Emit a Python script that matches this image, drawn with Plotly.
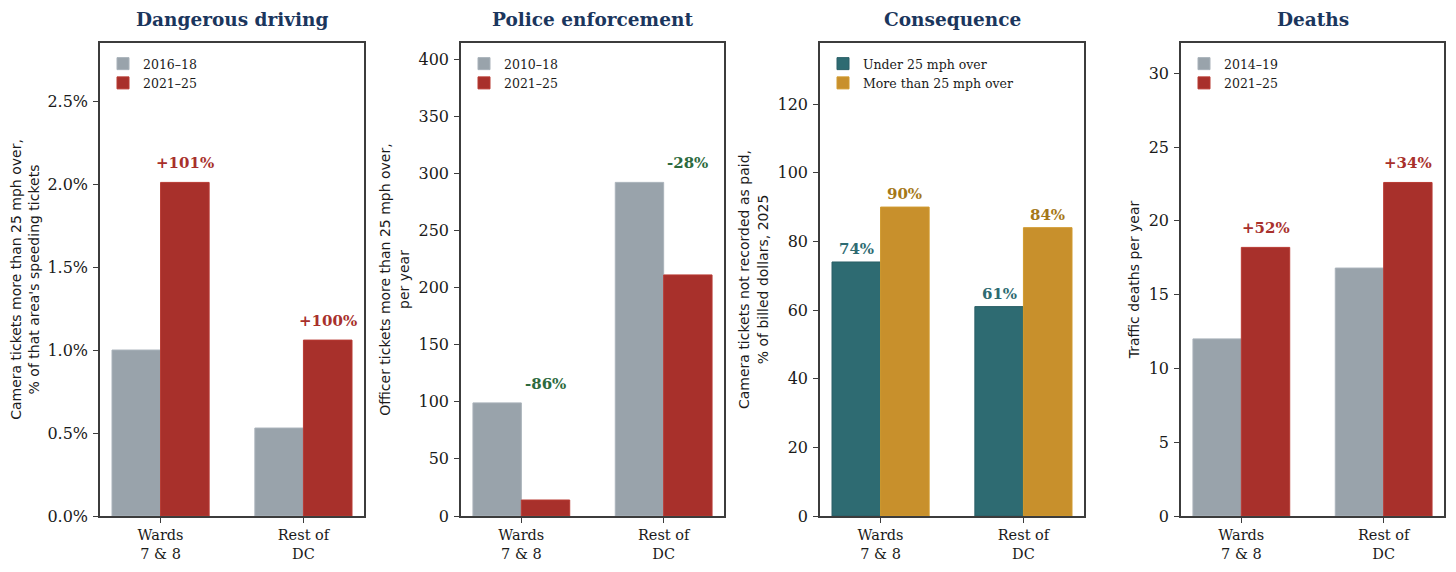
import plotly.graph_objects as go

groups = ["Wards<br>7 & 8", "Rest of<br>DC"]

# Dangerous driving: share of camera tickets > 25 mph over (%)
driving_before = [1.00, 0.53]
driving_after = [2.01, 1.06]
driving_change = ["+101%", "+100%"]

# Police enforcement: officer tickets > 25 mph over, per year
police_before = [99, 292]
police_after = [14, 211]
police_change = ["-86%", "-28%"]

# Consequence: camera tickets not recorded as paid (% of billed dollars, 2025)
unpaid_under = [74, 61]
unpaid_over = [90, 84]

# Deaths: traffic deaths per year
deaths_before = [12.0, 16.8]
deaths_after = [18.2, 22.6]
deaths_change = ["+52%", "+34%"]

GREY = "#99a3ab"
RED = "#a8302b"
TEAL = "#2e6b72"
GOLD = "#c8902c"
TITLE = "#1b365d"
GREEN = "#2d6a3e"
GOLD_TXT = "#a57818"

# page body has an 8px margin, so the figure is a bit smaller and offset
OFF = 8
W, H = 1456 - 2 * OFF, 572 - 2 * OFF


def px_x(v):
    return (v - OFF) / W


def px_y(v):
    return 1 - (v - OFF) / H


left_px = [100, 461, 820, 1181]
right_px = [364, 724, 1084, 1444]
top_px, bottom_px = 43, 516
ydom = [px_y(bottom_px), px_y(top_px)]
BW = 0.34

fig = go.Figure()

panels = [
    dict(title="Dangerous driving",
         ytitle="Camera tickets more than 25 mph over,<br>% of that area's speeding tickets",
         a=driving_before, b=driving_after, names=["2016\u201318", "2021\u201325"],
         colors=[GREY, RED], edges=["#a9b2ba", "#b83a33"],
         yrange=[0, 2.85], dtick=0.5, fmt=".1f", suffix="%"),
    dict(title="Police enforcement",
         ytitle="Officer tickets more than 25 mph over,<br>per year",
         a=police_before, b=police_after, names=["2010\u201318", "2021\u201325"],
         colors=[GREY, RED], edges=["#a9b2ba", "#b83a33"],
         yrange=[0, 414], dtick=50, fmt="d", suffix=""),
    dict(title="Consequence",
         ytitle="Camera tickets not recorded as paid,<br>% of billed dollars, 2025",
         a=unpaid_under, b=unpaid_over, names=["Under 25 mph over", "More than 25 mph over"],
         colors=[TEAL, GOLD], edges=["#2a5f66", "#d19a2e"],
         yrange=[0, 137.8], dtick=20, fmt="d", suffix=""),
    dict(title="Deaths",
         ytitle="Traffic deaths per year",
         a=deaths_before, b=deaths_after, names=["2014\u201319", "2021\u201325"],
         colors=[GREY, RED], edges=["#a9b2ba", "#b83a33"],
         yrange=[0, 32.05], dtick=5, fmt="d", suffix=""),
]

xs = list(range(len(groups)))
annotations = []

for i, p in enumerate(panels):
    n = "" if i == 0 else str(i + 1)
    leg = "legend" + n
    for k, (vals, off) in enumerate([(p["a"], -BW), (p["b"], 0)]):
        fig.add_trace(go.Bar(
            x=xs, y=vals, width=BW, offset=off, name=p["names"][k],
            marker=dict(color=p["colors"][k], line=dict(color=p["edges"][k], width=1)),
            xaxis="x" + n, yaxis="y" + n, legend=leg, hoverinfo="y",
        ))

    dom = [px_x(left_px[i]), px_x(right_px[i])]
    fig.layout["xaxis" + n] = dict(
        domain=dom, range=[-0.424, 1.424], tickvals=xs, ticktext=groups,
        showline=True, mirror=True, linecolor="#3c3c3c", linewidth=1.5,
        ticks="outside", ticklen=5, tickcolor="#3c3c3c", tickwidth=1.2,
        tickfont=dict(family="DejaVu Serif", size=14.5, color="#1a1a1a"),
        showgrid=False, zeroline=False, anchor="y" + n, fixedrange=True,
        automargin=False,
    )
    fig.layout["yaxis" + n] = dict(
        domain=ydom, range=p["yrange"], dtick=p["dtick"], tick0=0,
        tickformat=p["fmt"], ticksuffix=p["suffix"],
        showline=True, mirror=True, linecolor="#3c3c3c", linewidth=1.5,
        ticks="outside", ticklen=5, tickcolor="#3c3c3c", tickwidth=1.2,
        ticklabelstandoff=2,
        tickfont=dict(family="DejaVu Serif", size=16, color="#1a1a1a"),
        title=dict(text=p["ytitle"], standoff=6,
                   font=dict(family="DejaVu Sans", size=14, color="#1a1a1a")),
        showgrid=False, zeroline=False, anchor="x" + n, fixedrange=True,
        automargin=False,
    )
    fig.layout[leg] = dict(
        x=px_x(left_px[i] + 3), y=px_y(top_px + 6), xanchor="left", yanchor="top",
        bgcolor="rgba(255,255,255,0)", borderwidth=0,
        font=dict(family="DejaVu Serif", size=12.5, color="#1a1a1a"),
        itemwidth=30, tracegroupgap=0,
    )

    annotations.append(dict(
        text="<b>%s</b>" % p["title"], xref="paper", yref="paper",
        x=sum(dom) / 2, y=px_y(19.5), xanchor="center", yanchor="middle",
        showarrow=False, font=dict(family="DejaVu Serif", size=18.5, color=TITLE),
    ))

# change labels above the later-period bar
for n, before, after, labels, colors in [
    ("", driving_before, driving_after, driving_change, [RED, RED]),
    ("2", police_before, police_after, police_change, [GREEN, GREEN]),
    ("4", deaths_before, deaths_after, deaths_change, [RED, RED]),
]:
    for j in xs:
        annotations.append(dict(
            text="<b>%s</b>" % labels[j], xref="x" + n, yref="y" + n,
            x=j + BW / 2, y=max(before[j], after[j]), yshift=19,
            xanchor="center", yanchor="middle", showarrow=False,
            font=dict(family="DejaVu Serif", size=15, color=colors[j]),
        ))

# value labels on the consequence panel
for vals, off, col in [(unpaid_under, -BW / 2, TEAL), (unpaid_over, BW / 2, GOLD_TXT)]:
    for j in xs:
        annotations.append(dict(
            text="<b>%d%%</b>" % vals[j], xref="x3", yref="y3",
            x=j + off, y=vals[j], yshift=13,
            xanchor="center", yanchor="middle", showarrow=False,
            font=dict(family="DejaVu Serif", size=15, color=col),
        ))

fig.update_layout(
    width=W, height=H, margin=dict(l=0, r=0, t=0, b=0),
    barmode="overlay", plot_bgcolor="white", paper_bgcolor="white",
    annotations=annotations, showlegend=True,
)

fig.write_html("out.html")
